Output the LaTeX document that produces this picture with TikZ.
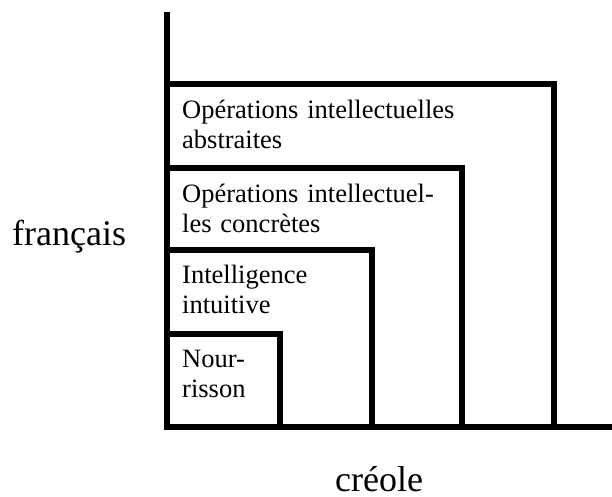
\documentclass[tikz,border=0pt]{standalone}
\usepackage{fontspec}
\setmainfont{Liberation Serif}

\begin{document}
\begin{tikzpicture}[x=1pt, y=-1pt,
        stage/.style={line width=6pt, line join=miter},
        label/.style={anchor=base west, inner sep=0pt, text width=300pt, align=left,
            font=\fontsize{26.5}{30.5}\selectfont},
        axis label/.style={anchor=base west, inner sep=0pt, font=\fontsize{36}{40}\selectfont}]
            \useasboundingbox (0,0) rectangle (612,496);
            \coordinate (Y) at (167, 12);
            \coordinate (O) at (167, 427);
            \coordinate (X) at (612, 427);
            \coordinate (T1) at (167, 83.5);
            \coordinate (R1) at (553.5, 427);
            \coordinate (T2) at (167, 167.5);
            \coordinate (R2) at (462, 427);
            \coordinate (T3) at (167, 250);
            \coordinate (R3) at (371.5, 427);
            \coordinate (T4) at (167, 334);
            \coordinate (R4) at (280, 427);
            \draw [stage] (Y) -- (O) -- (X);
            \draw [stage] (T1) -| (R1);
            \draw [stage] (T2) -| (R2);
            \draw [stage] (T3) -| (R3);
            \draw [stage] (T4) -| (R4);
            \node [label] (abstr) at (182, 118) {Opérations intellectuelles\\abstraites};
            \node [label] (concr) at (182, 202) {Opérations intellectuel-\\les concrètes};
            \node [label] (intuit) at (182, 283) {Intelligence\\intuitive};
            \node [label] (nour) at (182, 367) {Nour-\\risson};
            \node [axis label] (fr) at (12, 245) {français};
            \node [axis label] (cr) at (335, 491) {créole};
        \end{tikzpicture}
\end{document}
